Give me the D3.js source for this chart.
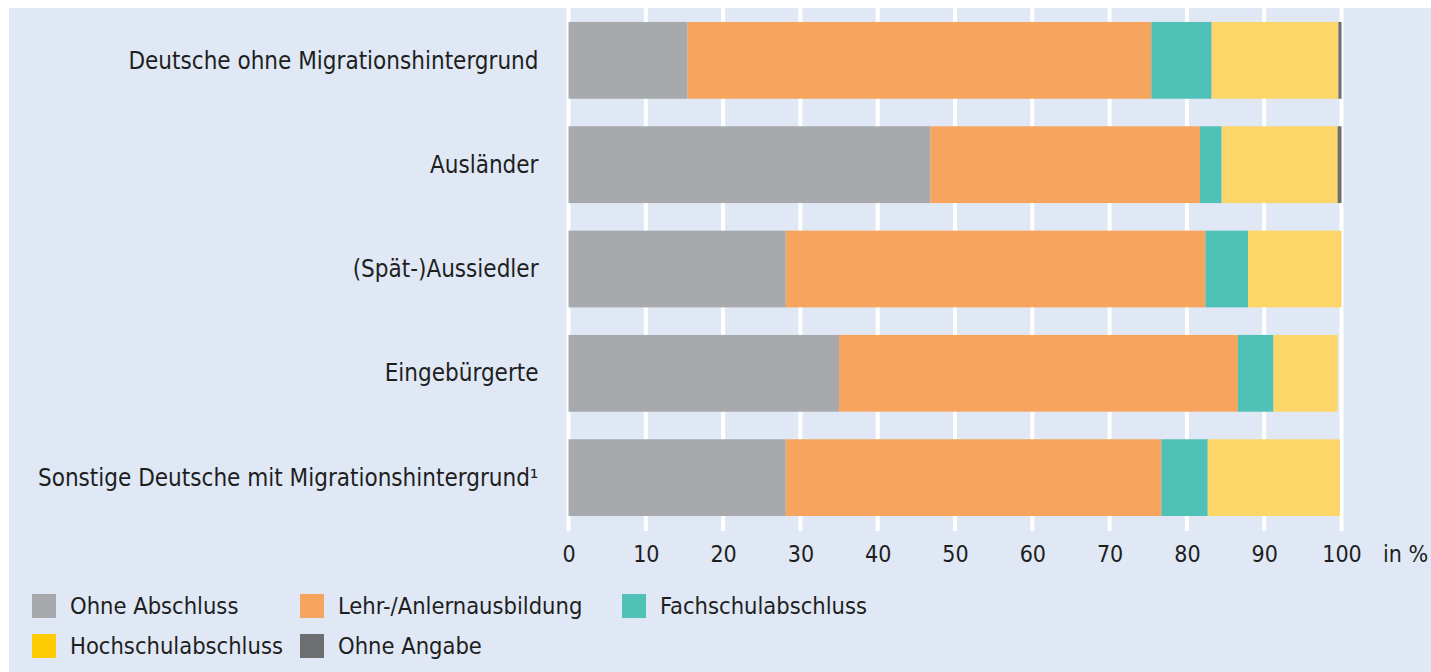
<!DOCTYPE html>
<html>
<head>
<meta charset="utf-8">
<script src="https://cdn.jsdelivr.net/npm/d3@7"></script>
<style>
  html, body { margin: 0; padding: 0; background: #fff; }
  svg text { font-family: "DejaVu Sans Condensed", "Liberation Sans Narrow", "DejaVu Sans", sans-serif; font-stretch: condensed; fill: #1e1e1e; }
</style>
</head>
<body>
<div id="chart"></div>
<script>
// Gruppen (von oben nach unten)
const categories = [
  'Deutsche ohne Migrationshintergrund',
  'Ausländer',
  '(Spät-)Aussiedler',
  'Eingebürgerte',
  'Sonstige Deutsche mit Migrationshintergrund¹'
];

// Serien
const seriesNames = ['Ohne Abschluss', 'Lehr-/Anlernausbildung', 'Fachschulabschluss', 'Hochschulabschluss', 'Ohne Angabe'];

// Werte in %
const ohneAbschluss  = [15.4, 46.8, 28.1, 35.0, 28.1];
const lehrAnlern     = [60.0, 34.9, 54.3, 51.6, 48.6];
const fachschule     = [7.8, 2.8, 5.5, 4.6, 6.0];
const hochschule     = [16.4, 15.0, 12.1, 8.3, 17.1];
const ohneAngabe     = [0.4, 0.5, 0.0, 0.0, 0.0];

const tickValues = [0, 10, 20, 30, 40, 50, 60, 70, 80, 90, 100];

const barColors = ['#a7a9ac', '#f7a45e', '#50c1b6', '#fdd669', '#6d6e71'];
const legendColors = ['#a7a9ac', '#f7a45e', '#50c1b6', '#ffcb05', '#6d6e71'];

const width = 1431, height = 672;

const rows = categories.map((c, i) => ({
  cat: c,
  [seriesNames[0]]: ohneAbschluss[i],
  [seriesNames[1]]: lehrAnlern[i],
  [seriesNames[2]]: fachschule[i],
  [seriesNames[3]]: hochschule[i],
  [seriesNames[4]]: ohneAngabe[i]
}));

const svg = d3.select('#chart').append('svg')
  .attr('width', width)
  .attr('height', height);

// Hintergrundfläche
svg.append('rect')
  .attr('x', 9).attr('y', 8)
  .attr('width', width - 9).attr('height', height - 8)
  .attr('fill', '#dfe8f4');

const x = d3.scaleLinear().domain([0, 100]).range([568.5, 1341.5]);
const y = d3.scaleBand().domain(categories).range([8.2, 529.8])
  .paddingInner(0.264).paddingOuter(0.132);

// Gitterlinien
svg.append('g')
  .selectAll('line')
  .data(tickValues)
  .enter().append('line')
  .attr('x1', d => x(d)).attr('x2', d => x(d))
  .attr('y1', 8).attr('y2', 531)
  .attr('stroke', '#ffffff')
  .attr('stroke-width', 4);

// Balken
const stack = d3.stack().keys(seriesNames);
const stacked = stack(rows);

svg.append('g')
  .selectAll('g')
  .data(stacked)
  .enter().append('g')
  .attr('fill', (d, i) => barColors[i])
  .selectAll('rect')
  .data(d => d)
  .enter().append('rect')
  .attr('x', d => x(d[0]))
  .attr('y', d => y(d.data.cat))
  .attr('width', d => Math.max(0, x(d[1]) - x(d[0])))
  .attr('height', y.bandwidth());

// Kategorien-Labels
svg.append('g')
  .selectAll('text')
  .data(categories)
  .enter().append('text')
  .attr('x', x(0) - 30)
  .attr('y', d => y(d) + y.bandwidth() / 2)
  .attr('dy', '0.34em')
  .attr('text-anchor', 'end')
  .style('font-size', '24px')
  .text(d => d);

// x-Achse
const xAxis = d3.axisBottom(x).tickValues(tickValues).tickSize(0).tickPadding(0);
const ax = svg.append('g')
  .attr('transform', 'translate(0,554)')
  .call(xAxis);
ax.select('.domain').remove();
ax.selectAll('text')
  .attr('y', 0)
  .attr('dy', '0.34em')
  .style('font-size', '23px');

svg.append('text')
  .attr('x', 1383)
  .attr('y', 554)
  .attr('dy', '0.34em')
  .style('font-size', '23px')
  .text('in %');

// Legende
const legendPos = [
  { x: 32, y: 606 }, { x: 300, y: 606 }, { x: 622, y: 606 },
  { x: 32, y: 646 }, { x: 300, y: 646 }
];
const legend = svg.append('g')
  .selectAll('g')
  .data(seriesNames)
  .enter().append('g')
  .attr('transform', (d, i) => `translate(${legendPos[i].x},${legendPos[i].y})`);

legend.append('rect')
  .attr('x', 0).attr('y', -12)
  .attr('width', 24).attr('height', 24)
  .attr('fill', (d, i) => legendColors[i]);

legend.append('text')
  .attr('x', 38)
  .attr('y', 0)
  .attr('dy', '0.34em')
  .style('font-size', '23.5px')
  .text(d => d);
</script>
</body>
</html>
